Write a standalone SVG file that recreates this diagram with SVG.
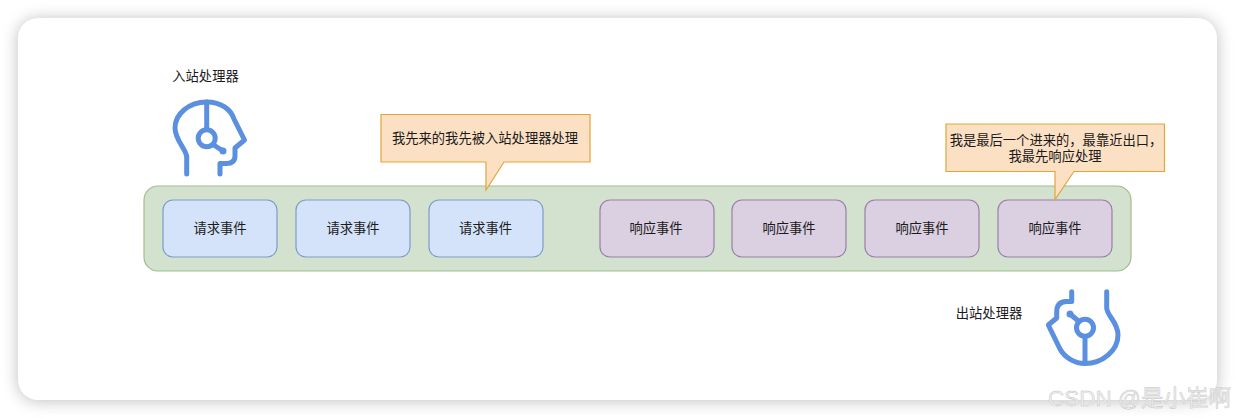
<svg xmlns="http://www.w3.org/2000/svg" width="1235" height="418" viewBox="0 0 1235 418">
<defs>
<filter id="shadow" x="-5%" y="-15%" width="110%" height="130%"><feGaussianBlur stdDeviation="8"/></filter>
<style>
text{font-family:"Liberation Sans","Noto Sans CJK SC",sans-serif;font-size:13.300px;fill:#1a1a1a;text-anchor:middle}
.ev{stroke-width:1.200}
.req{fill:#d4e3f9;stroke:#7f9cc9}
.res{fill:#dbcfe2;stroke:#9a7fa8}
.call{fill:#fce0c4;stroke:#dfa63a;stroke-width:1.200}
.ic{fill:none;stroke:#5b8fe0;stroke-width:5;stroke-linecap:round;stroke-linejoin:round}
.dot{fill:#5b8fe0}
</style>
</defs>
<rect width="1235" height="418" fill="#ffffff"/>
<rect x="18" y="19" width="1199" height="382" rx="20" fill="#8a8a8a" opacity="0.55" filter="url(#shadow)"/>
<rect id="card" x="18" y="18" width="1199" height="382" rx="20" fill="#ffffff"/>
<g id="connectors"></g>
<g id="container"><rect x="144" y="186" width="987" height="85" rx="14" fill="#d2e2cf" stroke="#9fbe8e" stroke-width="1.200"/></g>
<g id="req1"><rect class="ev req" x="163" y="200" width="114" height="57" rx="10"/><text x="220" y="233">请求事件</text></g>
<g id="req2"><rect class="ev req" x="296" y="200" width="114" height="57" rx="10"/><text x="353" y="233">请求事件</text></g>
<g id="req3"><rect class="ev req" x="429" y="200" width="114" height="57" rx="10"/><text x="485.500" y="233">请求事件</text></g>
<g id="res1"><rect class="ev res" x="600" y="200" width="114" height="57" rx="10"/><text x="656" y="233">响应事件</text></g>
<g id="res2"><rect class="ev res" x="732" y="200" width="114" height="57" rx="10"/><text x="789" y="233">响应事件</text></g>
<g id="res3"><rect class="ev res" x="865" y="200" width="114" height="57" rx="10"/><text x="922" y="233">响应事件</text></g>
<g id="res4"><rect class="ev res" x="998" y="200" width="114" height="57" rx="10"/><text x="1055" y="233">响应事件</text></g>
<g id="callout1"><path class="call" d="M381 114.500H590V162H504L486 190V162H381Z"/><text x="485" y="143">我先来的我先被入站处理器处理</text></g>
<g id="callout2"><path class="call" d="M946 124H1164.500V171.500H1074L1055 199.500V171.500H946Z"/><text x="1056" y="145">我是最后一个进来的，最靠近出口，</text><text x="1055" y="161">我最先响应处理</text></g>
<g id="inbound"><text x="205.500" y="81">入站处理器</text>
<path class="ic" d="M186.700 174V157C186.700 150 175 140 175 128C175 114 189 102 206.700 102C222 102 231 110 234 119L244.500 140L235 148V156Q235 163.500 226 163.500H220V174"/>
<path class="ic" d="M206.700 102V129"/><circle class="ic" cx="206.700" cy="138.300" r="8.500"/><path class="ic" d="M213 144.500L223 151"/><circle class="dot" cx="223" cy="151" r="3.500"/></g>
<g id="outbound"><text x="989" y="318">出站处理器</text>
<path class="ic" d="M1071.700 291.700V301.500H1066Q1056.700 302 1056.700 312V318L1048.300 325L1060 349C1065 358 1075 363.500 1085 363.500C1103 363.500 1118 350 1118 335C1118 322 1107 316 1106.700 308V291.700"/>
<path class="ic" d="M1085 337V363"/><circle class="ic" cx="1085" cy="327.700" r="8.500"/><path class="ic" d="M1079 321.500L1070 314"/><circle class="dot" cx="1070" cy="314" r="3.500"/></g>
<text id="watermark" x="1139.500" y="405.500" style="font-size:22.500px;fill:#eeeeee;stroke:#c2c2c2;stroke-width:0.400">CSDN @是小崔啊</text>
</svg>
